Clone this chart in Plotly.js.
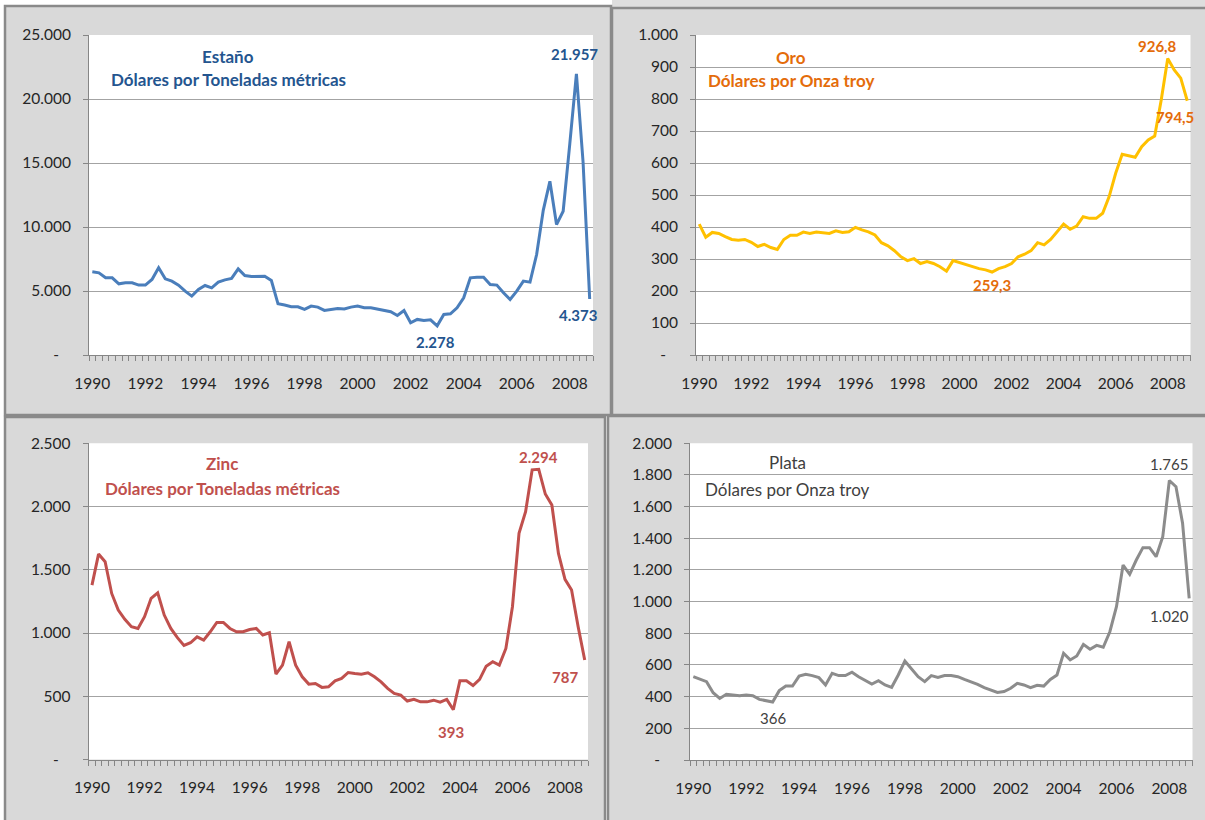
<!DOCTYPE html>
<html><head><meta charset="utf-8">
<script src="https://cdn.plot.ly/plotly-3.0.1.min.js"></script>
<style>html,body{margin:0;padding:0;background:#fff}#chart{width:1205px;height:820px}</style>
</head><body><div id="chart"></div>
<script>
// ---------- DATA (quarterly, 1990 T1 .. 2008 T4) ----------
const startYear = 1990;
const endYear = 2008;
const quartersPerYear = 4;
const yearLabels = [1990, 1992, 1994, 1996, 1998, 2000, 2002, 2004, 2006, 2008];

const estano = [6500,6420,6030,6030,5560,5640,5640,5460,5460,5900,
  6810,5950,5770,5460,4990,4600,5120,5430,5250,5690,
  5870,5980,6730,6210,6130,6160,6160,5820,4000,3900,
  3770,3770,3560,3820,3740,3480,3560,3640,3590,3740,
  3820,3690,3690,3590,3480,3380,3090,3480,2520,2780,
  2700,2750,2278,3170,3220,3690,4470,6030,6080,6080,
  5510,5460,4860,4340,4990,5770,5690,7850,11300,13570,
  10190,11230,16500,21957,15100,4373];

const oro = [409,368,383,380,370,361,359,361,352,339,
  346,336,330,361,374,374,384,380,384,383,
  380,388,383,385,399,391,385,375,351,341,
  326,307,295,301,286,292,286,276,262,295,
  289,281,276,270,266,259.3,270,276,286,307,
  315,326,351,344,361,385,409,393,403,432,
  427,427,443,495,568,627,622,618,651,672,
  684,797,926.8,891,865,794.5];

const zinc = [1379,1624,1564,1313,1181,1108,1050,1036,1129,1274,
  1318,1142,1036,963,902,923,970,944,1010,1084,
  1084,1036,1010,1010,1028,1036,984,1002,675,746,
  931,746,654,596,601,570,575,622,641,688,
  680,675,686,654,614,562,522,509,462,475,
  456,456,469,454,475,393,622,622,585,633,
  738,773,746,878,1208,1788,1959,2290,2294,2099,
  2012,1630,1424,1340,1050,787];

const plata = [526,509,495,425,389,415,410,406,410,406,
  383,373,366,438,467,467,530,541,533,520,
  474,547,533,533,554,526,505,480,501,474,
  459,537,625,579,526,495,533,522,533,533,
  526,509,495,478,457,442,427,432,453,484,
  474,457,472,467,509,537,674,632,657,730,
  699,724,712,810,968,1231,1173,1263,1341,1341,
  1284,1410,1765,1726,1495,1020];

const titles = ['Estaño', 'Oro', 'Zinc', 'Plata'];
const units = ['Dólares por Toneladas métricas', 'Dólares por Onza troy',
               'Dólares por Toneladas métricas', 'Dólares por Onza troy'];
const yMax = [25000, 1000, 2500, 2000];
const yStep = [5000, 100, 500, 200];
const labelDecimals = [0, 1, 0, 0];

// ---------- STYLE / LAYOUT ----------
const W = 1205, H = 820;
const FONT = 'Lato, "Open Sans", sans-serif';
const TICK_SIZE = 15.5, TITLE_SIZE = 17, LABEL_SIZE = 15;
const panels = [
  {data: estano, line: '#4a7ebb', text: '#24558f', bold: true,
   box: [5, 6, 611, 415], plot: [89, 35, 593, 355], tx: 228, ty: [56, 80],
   shifts: {max: [-2, 20], last: [-12, -16], min: [-2, -16]}},
  {data: oro, line: '#ffc000', text: '#e46c0a', bold: true,
   box: [612, 8, 1212, 415], plot: [696, 35, 1190.5, 355], tx: 791, ty: [57, 81],
   shifts: {max: [-10, 12], last: [-12, -16], min: [0, -13]}},
  {data: zinc, line: '#c0504d', text: '#c0504d', bold: true,
   box: [5, 417, 605, 826], plot: [88.7, 443.3, 588, 759.5], tx: 222, ty: [464, 488],
   shifts: {max: [0, 12], last: [-20, -17], min: [-2, -22]}},
  {data: plata, line: '#8c8c8c', text: '#404040', bold: false,
   box: [608, 416, 1212, 826], plot: [690, 443.3, 1192.5, 760], tx: 787, ty: [463, 489],
   shifts: {max: [0, 17], last: [-20, -18], min: [0, -16]}}
];

function fmt(v, dec) {
  const s = v.toFixed(dec);
  const parts = s.split('.');
  const intPart = parts[0].replace(/\B(?=(\d{3})+(?!\d))/g, '.');
  return parts.length > 1 ? intPart + ',' + parts[1] : intPart;
}
const px = x => x / W;
const py = y => 1 - y / H;

const nQ = (endYear - startYear + 1) * quartersPerYear;
const xq = Array.from({length: nQ}, (_, i) => startYear + i / quartersPerYear);
const half = 0.5 / quartersPerYear;

const traces = [], shapes = [], annotations = [];
const layout = {
  width: W, height: H, margin: {l: 0, r: 0, t: 0, b: 0},
  paper_bgcolor: '#ffffff', plot_bgcolor: 'rgba(0,0,0,0)',
  showlegend: false, font: {family: FONT, size: TICK_SIZE, color: '#262626'}
};

// top strip above right panel
shapes.push({type: 'rect', xref: 'paper', yref: 'paper', layer: 'below',
  x0: px(612), x1: px(1210), y0: py(0), y1: py(8), fillcolor: '#dedede', line: {width: 0}});

panels.forEach((p, k) => {
  const sfx = k === 0 ? '' : String(k + 1);
  const xa = 'x' + sfx, ya = 'y' + sfx;
  shapes.push({type: 'rect', xref: 'paper', yref: 'paper', layer: 'below',
    x0: px(p.box[0]), x1: px(p.box[2]), y0: py(p.box[3]), y1: py(p.box[1]),
    fillcolor: '#d9d9d9', line: {color: '#8a8a8a', width: 2.5}});
  shapes.push({type: 'rect', xref: 'paper', yref: 'paper', layer: 'below',
    x0: px(p.plot[0]), x1: px(p.plot[2]), y0: py(p.plot[3]), y1: py(p.plot[1]),
    fillcolor: '#ffffff', line: {width: 0}});

  const tv = [], tt = [];
  for (let v = 0; v <= yMax[k]; v += yStep[k]) {
    tv.push(v);
    tt.push(v === 0 ? '-\u00a0\u00a0\u00a0' : fmt(v, 0));
  }
  layout['xaxis' + sfx] = {
    domain: [px(p.plot[0]), px(p.plot[2])], anchor: ya,
    range: [startYear - half, endYear + 1 - half], fixedrange: true,
    tickmode: 'array', tickvals: yearLabels, ticktext: yearLabels.map(String),
    ticks: 'outside', ticklen: 6, tickcolor: 'rgba(0,0,0,0)', ticklabelstandoff: 8,
    showgrid: false, zeroline: false, showline: true, linecolor: '#868686', linewidth: 1,
    tickfont: {family: FONT, size: TICK_SIZE, color: '#262626'},
    minor: {tickmode: 'linear', tick0: startYear - half, dtick: 1 / quartersPerYear,
            ticks: 'outside', ticklen: 5, tickcolor: '#868686', tickwidth: 1, showgrid: false}
  };
  layout['yaxis' + sfx] = {
    domain: [py(p.plot[3]), py(p.plot[1])], anchor: xa,
    range: [0, yMax[k]], fixedrange: true,
    tickmode: 'array', tickvals: tv, ticktext: tt,
    ticks: 'outside', ticklen: 5, tickcolor: '#868686', ticklabelstandoff: 9,
    showgrid: true, gridcolor: '#a3a3a3', gridwidth: 1,
    zeroline: false, showline: true, linecolor: '#868686', linewidth: 1,
    tickfont: {family: FONT, size: TICK_SIZE, color: '#262626'}
  };
  traces.push({type: 'scatter', mode: 'lines', x: xq, y: p.data, xaxis: xa, yaxis: ya,
    line: {color: p.line, width: 3}, hoverinfo: 'skip'});

  const tf = {family: FONT, size: TITLE_SIZE, color: p.text, weight: p.bold ? 'bold' : 'normal'};
  annotations.push({xref: 'paper', yref: 'paper', x: px(p.tx), y: py(p.ty[0]),
    text: titles[k], showarrow: false, xanchor: 'center', yanchor: 'middle', font: tf});
  annotations.push({xref: 'paper', yref: 'paper', x: px(p.tx), y: py(p.ty[1]),
    text: units[k], showarrow: false, xanchor: 'center', yanchor: 'middle', font: tf});

  const d = p.data;
  const iMax = d.indexOf(Math.max(...d));
  const iMin = d.indexOf(Math.min(...d));
  const iLast = d.length - 1;
  const lf = {family: FONT, size: LABEL_SIZE, color: p.text, weight: p.bold ? 'bold' : 'normal'};
  [['max', iMax], ['last', iLast], ['min', iMin]].forEach(([key, i]) => {
    annotations.push({xref: xa, yref: ya, x: xq[i], y: d[i], text: fmt(d[i], labelDecimals[k]),
      showarrow: false, xanchor: 'center', yanchor: 'middle',
      xshift: p.shifts[key][0], yshift: p.shifts[key][1], font: lf});
  });
});

layout.shapes = shapes;
layout.annotations = annotations;
Plotly.newPlot('chart', traces, layout, {staticPlot: true, displayModeBar: false});
</script>
</body></html>
